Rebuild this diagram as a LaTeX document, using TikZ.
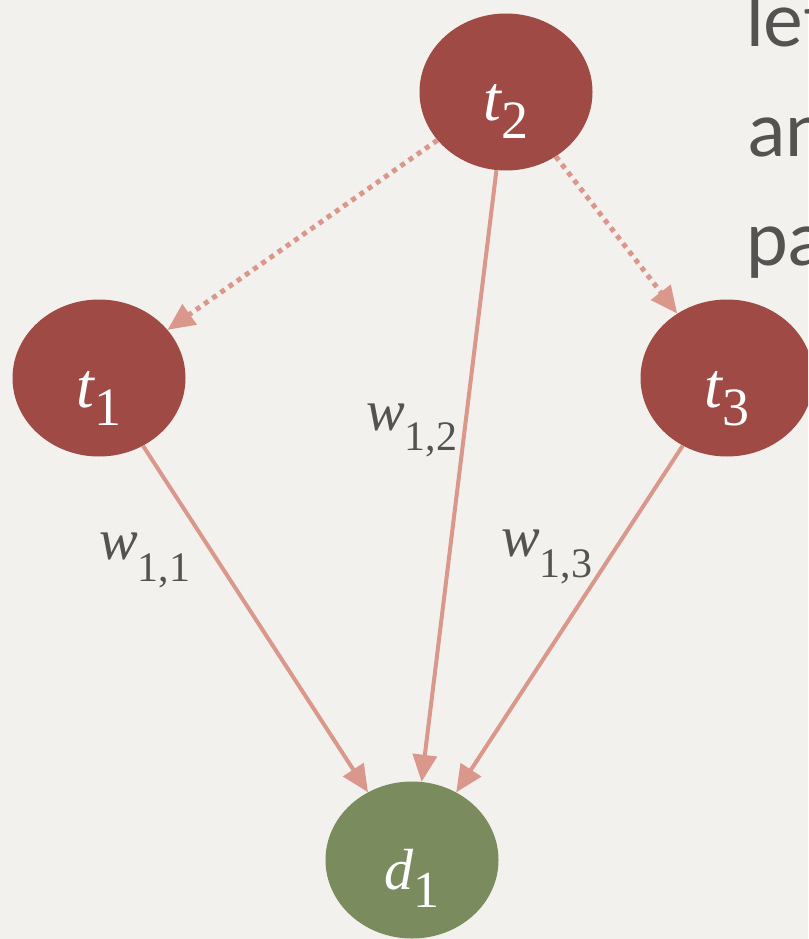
\documentclass[tikz,border=0pt]{standalone}
\usepackage{fontspec}
\setmainfont{Liberation Serif}
\newfontfamily\serifvar{Liberation Serif}
\newfontfamily\sidefont{Lato}
\usetikzlibrary{shapes.geometric,arrows.meta}
\definecolor{paper}{HTML}{F2F1ED}
\definecolor{tnode}{HTML}{9F4A45}
\definecolor{dnode}{HTML}{7A8B5E}
\definecolor{edgecol}{HTML}{DA978C}
\definecolor{ink}{HTML}{555352}
\newcommand{\mylbl}[5]{{\serifvar\fontsize{#3}{#3}\selectfont\itshape #1}\raisebox{-#5}{\serifvar\fontsize{#4}{#4}\selectfont #2}}
\tikzset{
  vnode/.style={ellipse, minimum width=173pt, minimum height=157pt, inner sep=0pt,
    text=white, text height=62pt, text depth=4pt},
  tvar/.style={vnode, fill=tnode},
  dvar/.style={vnode, fill=dnode},
  conn/.style={draw=edgecol, line width=4pt, -{Triangle[length=27pt,width=24pt]}},
  dotconn/.style={conn, line width=5pt, dash pattern=on 5pt off 5pt},
  wlabel/.style={anchor=base west, inner sep=0pt, text=ink},
  sidetext/.style={anchor=base west, inner sep=0pt, text=ink, font=\sidefont\fontsize{75}{75}\selectfont}
}
\begin{document}
\begin{tikzpicture}[x=1pt,y=-1pt]
\useasboundingbox (0,0) rectangle (808,939);
\fill[paper] (0,0) rectangle (808,939);
\clip (0,0) rectangle (808,939);

\node[tvar] (t2) at (506,92) {\mylbl{t}{2}{64}{54}{18pt}};
\node[tvar] (t1) at (99,378) {\mylbl{t}{1}{64}{54}{18pt}};
\node[tvar] (t3) at (727,378) {\mylbl{t}{3}{64}{54}{18pt}};
\node[dvar] (d1) at (412,860) {\mylbl{d}{1}{58}{52}{18pt}};

\draw[dotconn] (t2) -- (t1);
\draw[dotconn] (t2) -- (t3);
\draw[conn] (t2) -- (d1);
\draw[conn] (t1) -- (d1);
\draw[conn] (t3) -- (d1);

\node[wlabel] (w12) at (366,430) {\mylbl{w}{1,2}{58}{42}{20pt}};
\node[wlabel] (w11) at (99,559) {\mylbl{w}{1,1}{58}{42}{22pt}};
\node[wlabel] (w13) at (501,556) {\mylbl{w}{1,3}{58}{42}{21pt}};

\node[sidetext] (s1) at (746,47) {let};
\node[sidetext] (s2) at (748,157) {an};
\node[sidetext] (s3) at (746,265) {pa};
\end{tikzpicture}
\end{document}
